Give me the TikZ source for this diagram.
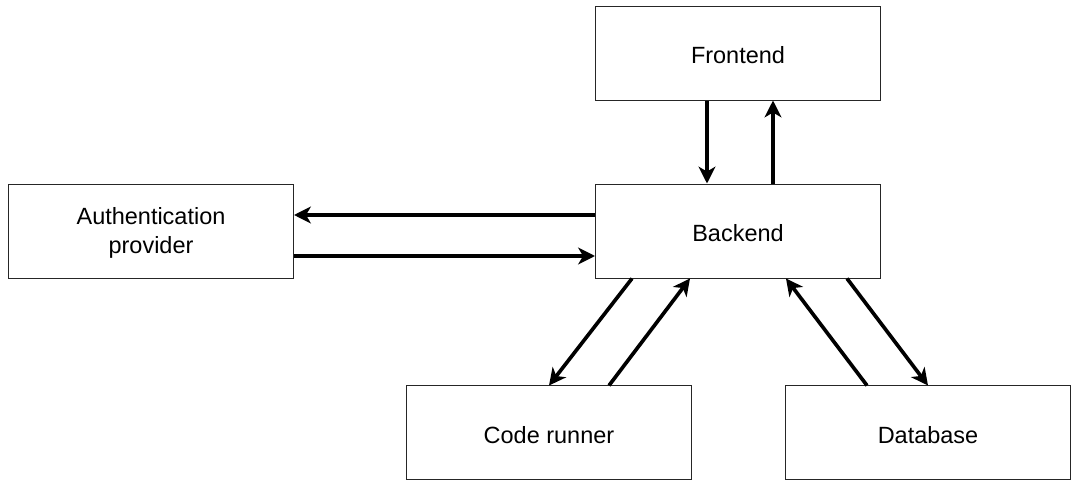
\documentclass[tikz,border=0pt]{standalone}
\usepackage{fontspec}
\setmainfont{Liberation Sans}
\usetikzlibrary{positioning,arrows.meta}
\begin{document}
\begin{tikzpicture}[
  block/.style={rectangle, draw=black!85, line width=0.7pt, minimum width=7.125cm, minimum height=2.35cm, align=center, inner sep=0pt, text height=15.6pt, text depth=0pt},
  arr/.style={-{Stealth[length=12pt,width=12pt,inset=3.5pt]}, line width=2.6pt},
  font=\fontsize{16.7}{20}\selectfont
]
\useasboundingbox (-18.45,5.775) rectangle (8.375,-6.325);
\node[block] (backend) {Backend};
\node[block, above=2.075cm of backend] (frontend) {Frontend};
\node[block, left=7.525cm of backend, text height=31.3pt] (auth) {Authentication\\provider};
\node[block, below=2.675cm of backend, xshift=-4.725cm] (runner) {Code runner};
\node[block, below=2.675cm of backend, xshift=4.75cm] (db) {Database};

\draw[arr] ([xshift=-0.775cm]frontend.south) -- ([xshift=-0.775cm]backend.north);
\draw[arr] ([xshift=0.875cm]backend.north) -- ([xshift=0.875cm]frontend.south);
\draw[arr] ([yshift=0.4cm]backend.west) -- ([yshift=0.4cm]auth.east);
\draw[arr] ([yshift=-0.625cm]auth.east) -- ([yshift=-0.625cm]backend.west);
\draw[arr] ([xshift=-2.65cm]backend.south) -- (runner.north);
\draw[arr] ([xshift=1.5cm]runner.north) -- ([xshift=-1.2cm]backend.south);
\draw[arr] ([xshift=-1.525cm]db.north) -- ([xshift=1.2cm]backend.south);
\draw[arr] ([xshift=2.725cm]backend.south) -- (db.north);
\end{tikzpicture}
\end{document}
